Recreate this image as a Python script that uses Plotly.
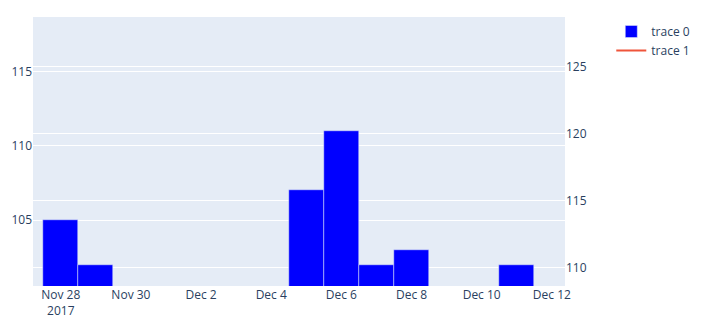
import plotly.graph_objects as go

dates = ["2017-11-28", "2017-11-29", "2017-12-05", "2017-12-06",
         "2017-12-07", "2017-12-08", "2017-12-11"]
bar_values = [105, 102, 107, 111, 102, 103, 102]
line_dates = ["2017-11-27", "2017-12-12"]
line_values = [None, None]

fig = go.Figure()
fig.add_trace(go.Bar(x=dates, y=bar_values, name="trace 0",
                     marker=dict(color="blue")))
fig.add_trace(go.Scatter(x=line_dates, y=line_values, mode="lines",
                         name="trace 1", yaxis="y2"))

fig.update_layout(
    width=720, height=325,
    margin=dict(l=33, r=155, t=17, b=39, autoexpand=False),
    bargap=0,
    xaxis=dict(range=["2017-11-27 05:00", "2017-12-12 09:00"], dtick=2 * 86400000,
               tick0="2017-11-28", automargin=False),
    yaxis=dict(range=[100.55, 118.7], dtick=5, automargin=False),
    yaxis2=dict(range=[108.65, 128.7], dtick=5, overlaying="y", side="right",
                automargin=False),
    legend=dict(x=1.087),
    showlegend=True,
)

fig.write_html("out.html")
